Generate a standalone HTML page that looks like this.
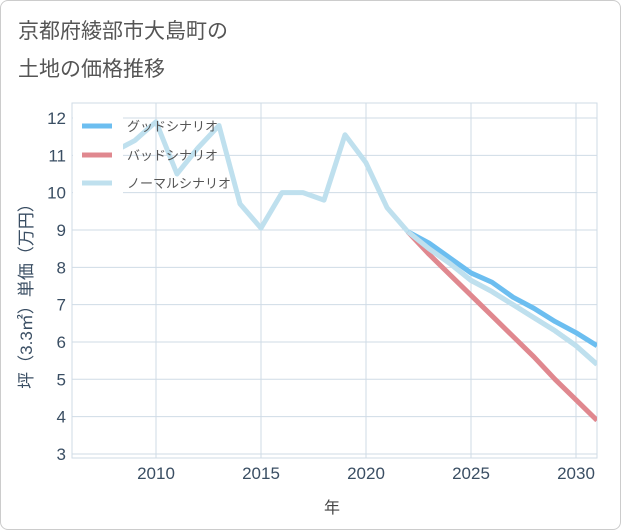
<!DOCTYPE html>
<html><head><meta charset="utf-8"><style>
body{margin:0;background:#fff;font-family:"Liberation Sans","Noto Sans CJK JP",sans-serif;}
#wrap{position:relative;width:619px;height:528px;border:1px solid #ccc;border-radius:8px;overflow:hidden;background:#fff}
</style></head><body>
<div id="wrap">
<svg id="chart" width="621" height="530" style="position:absolute;left:-1px;top:-1px">
<text x="18" y="38" font-size="21" fill="#555">京都府綾部市大島町の</text>
<text x="18" y="76" font-size="21" fill="#555">土地の価格推移</text>
<g id="grid"></g><g id="series"></g><g id="legend"></g>
<text x="332" y="513" font-size="16" fill="#444" text-anchor="middle">年</text>
<text transform="translate(32,292) rotate(-90)" font-size="17" fill="#3a4e63" text-anchor="middle">坪（3.3㎡）単価（万円）</text>
</svg>
</div>
<script>
const years=[2008,2009,2010,2011,2012,2013,2014,2015,2016,2017,2018,2019,2020,2021,2022,2023,2024,2025,2026,2027,2028,2029,2030,2031];
const normal=[11.1,11.4,11.9,10.5,11.2,11.8,9.7,9.05,10.0,10.0,9.8,11.55,10.8,9.6,8.95,8.5,8.1,7.65,7.35,7.0,6.65,6.3,5.9,5.4];
const goodYears=[2022,2023,2024,2025,2026,2027,2028,2029,2030,2031];
const good=[8.95,8.65,8.25,7.85,7.6,7.2,6.9,6.55,6.25,5.9];
const bad=[8.95,8.35,7.8,7.25,6.7,6.15,5.6,5.0,4.45,3.9];
const xTicks=[2010,2015,2020,2025,2030];
const yTicks=[3,4,5,6,7,8,9,10,11,12];
const NS="http://www.w3.org/2000/svg";
const L=72,R=597,T=103,B=458;
const x=v=>156+(v-2010)*21;
const y=v=>118+(12-v)*37.33;
function mk(tag,attrs,parent){const e=document.createElementNS(NS,tag);for(const k in attrs)e.setAttribute(k,attrs[k]);parent.appendChild(e);return e;}
const grid=document.getElementById('grid');
const gf=mk('rect',{x:L,y:T,width:R-L,height:B-T,fill:'none',stroke:'#cfdbe6'},grid);


xTicks.forEach(t=>{
 const l=mk('line',{x1:x(t),x2:x(t),y1:T,y2:B,stroke:'#cfdbe6'},grid);
 
 
 const s=mk('text',{x:x(t),y:479,'font-size':17,fill:'#3a4e63','text-anchor':'middle'},grid);s.textContent=t;
 
 
});
yTicks.forEach(t=>{
 const l=mk('line',{x1:L,x2:R,y1:y(t),y2:y(t),stroke:'#cfdbe6'},grid);
 
 
 const s=mk('text',{x:66,y:y(t)+6,'font-size':17,fill:'#3a4e63','text-anchor':'end'},grid);s.textContent=t;
 
 
});
const ser=document.getElementById('series');
const clip=mk('clipPath',{id:'c'},ser);mk('rect',{x:L,y:T,width:R-L,height:B-T},clip);
function line(xs,vs,color,name){
 const p=mk('polyline',{points:xs.map((v,i)=>x(v)+','+y(vs[i])).join(' '),fill:'none',stroke:color,'stroke-width':5,'stroke-linejoin':'round','clip-path':'url(#c)'},ser);
 
 
}
line(years,normal,'#bfe0ee','normal-scenario-line');
line(goodYears,bad,'#e0888f','bad-scenario-line');
line(goodYears,good,'#6cbef0','good-scenario-line');
line(years.slice(14),normal.slice(14),'#bfe0ee','normal-scenario-forecast');
const lg=document.getElementById('legend');
[['グッドシナリオ','#6cbef0',126],['バッドシナリオ','#e0888f',155],['ノーマルシナリオ','#bfe0ee',183]].forEach(([n,c,yy],i)=>{
 const bg=mk('rect',{x:73,y:yy-12,width:50,height:24,fill:'#fff'},lg);
 
 
 const l=mk('line',{x1:82,x2:112,y1:yy,y2:yy,stroke:c,'stroke-width':5},lg);
 
 
 const t=mk('text',{x:127,y:yy+5,'font-size':13,fill:'#555'},lg);t.textContent=n;
 
 
});
</script>
</body></html>
